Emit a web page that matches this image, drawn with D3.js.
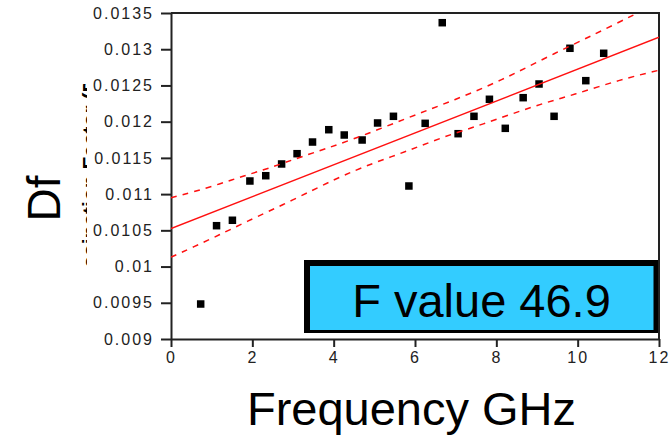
<!DOCTYPE html>
<html>
<head>
<meta charset="utf-8">
<script src="https://cdn.jsdelivr.net/npm/d3@7"></script>
<style>
  html, body { margin: 0; padding: 0; background: #fff; }
  svg { display: block; }
</style>
</head>
<body>
<svg id="chart" width="669" height="440"></svg>
<script>
// ---- data ----
const freq = [0.73, 1.12, 1.51, 1.94, 2.33, 2.72, 3.10, 3.48, 3.88, 4.26, 4.70, 5.08, 5.47,
              5.85, 6.25, 6.67, 7.06, 7.45, 7.83, 8.22, 8.66, 9.05, 9.42, 9.81, 10.20, 10.64];
const df   = [0.009483, 0.010564, 0.010639, 0.011181, 0.011254, 0.011416, 0.011558, 0.011719,
              0.011889, 0.011816, 0.011747, 0.011982, 0.012074, 0.011112, 0.011977, 0.013366,
              0.011834, 0.012074, 0.012309, 0.011908, 0.012331, 0.012520, 0.012074, 0.013013,
              0.012566, 0.012944];

const fitX = [0, 12];
const fitY = [0.010524, 0.013165];

const upperX = [0, 0.55, 1.20, 1.78, 2.43, 3.17, 4.47, 5.80, 6.98, 8.13, 9.27, 10.47, 11.36, 12];
const upperY = [0.01095, 0.01103, 0.01114, 0.01125, 0.01136, 0.01151, 0.01175, 0.01205,
                0.01230, 0.01257, 0.01290, 0.01322, 0.01347, 0.01364];
const lowerX = [0, 0.55, 1.20, 1.78, 3.01, 4.07, 4.97, 5.80, 6.69, 7.60, 8.99, 9.90, 11.04, 12];
const lowerY = [0.01013, 0.01027, 0.01044, 0.01060, 0.01092, 0.01122, 0.01143, 0.01159,
                0.01179, 0.01195, 0.01223, 0.01237, 0.01258, 0.01271];

const xTicks = [0, 2, 4, 6, 8, 10, 12];
const xTickLabels = ["0", "2", "4", "6", "8", "10", "12"];
const yTicks = [0.009, 0.0095, 0.01, 0.0105, 0.011, 0.0115, 0.012, 0.0125, 0.013, 0.0135];
const yTickLabels = ["0.009", "0.0095", "0.01", "0.0105", "0.011", "0.0115", "0.012", "0.0125", "0.013", "0.0135"];

const xTitle = "Frequency GHz";
const yTitle = "Df";
const hiddenTitle = "Dissipation Factor (Df)";
const fLabel = "F value 46.9";

// ---- layout ----
const svg = d3.select("#chart");
const L = 171, R = 659, T = 13, B = 339;
const x = d3.scaleLinear().domain([0, 12]).range([L, R]);
const y = d3.scaleLinear().domain([0.009, 0.0135]).range([B, T]);
const font = "'Liberation Sans', Arial, Helvetica, sans-serif";
const axisColor = "#222";

svg.append("rect").attr("width", 669).attr("height", 440).attr("fill", "#fff");

// clipped remnant of a rotated title at left of the tick labels (only slivers visible)
svg.append("clipPath").attr("id", "remnant")
  .append("rect").attr("x", 81).attr("y", 84).attr("width", 6).attr("height", 184);
svg.append("g").attr("clip-path", "url(#remnant)")
  .append("text")
  .attr("transform", "translate(97,176) rotate(-90)")
  .attr("text-anchor", "middle")
  .attr("font-family", font).attr("font-weight", "bold").attr("font-size", 21)
  .attr("fill", "#000")
  .text(hiddenTitle);

// clip for plot contents
svg.append("clipPath").attr("id", "plot")
  .append("rect").attr("x", L).attr("y", T).attr("width", R - L).attr("height", B - T);

// axes
const yAxis = d3.axisLeft(y).tickValues(yTicks)
  .tickFormat((d, i) => yTickLabels[i]).tickSize(10).tickSizeOuter(0).tickPadding(7);
const gy = svg.append("g").attr("transform", `translate(${L},0)`).call(yAxis);

const xAxis = d3.axisBottom(x).tickValues(xTicks)
  .tickFormat((d, i) => xTickLabels[i]).tickSize(8).tickSizeOuter(0).tickPadding(5);
const gx = svg.append("g").attr("transform", `translate(0,${B})`).call(xAxis);

[gx, gy].forEach(g => {
  g.select(".domain").attr("stroke", axisColor).attr("stroke-width", 2);
  g.selectAll(".tick line").attr("stroke", axisColor).attr("stroke-width", 2);
  g.selectAll(".tick text")
    .attr("font-family", font).attr("font-size", 16)
    .attr("letter-spacing", "2px").attr("fill", "#222");
});

// top and right frame
svg.append("path")
  .attr("d", `M${L},${T}H${R}V${B}`)
  .attr("fill", "none").attr("stroke", axisColor).attr("stroke-width", 2);

// points
const pts = freq.map((f, i) => ({ f, v: df[i] }));
svg.append("g").selectAll("rect").data(pts).enter().append("rect")
  .attr("x", d => x(d.f) - 3.75).attr("y", d => y(d.v) - 3.75)
  .attr("width", 7.5).attr("height", 7.5).attr("fill", "#000");

// fit line and confidence bands
const line = d3.line().x(d => x(d[0])).y(d => y(d[1]));
const curve = d3.line().x(d => x(d[0])).y(d => y(d[1])).curve(d3.curveBasis);
const lines = svg.append("g").attr("clip-path", "url(#plot)");
lines.append("path").attr("d", line(fitX.map((v, i) => [v, fitY[i]])))
  .attr("fill", "none").attr("stroke", "#ff1010").attr("stroke-width", 1.5);
lines.append("path").attr("d", curve(upperX.map((v, i) => [v, upperY[i]])))
  .attr("fill", "none").attr("stroke", "#ff1010").attr("stroke-width", 1.5)
  .attr("stroke-dasharray", "6,6");
lines.append("path").attr("d", curve(lowerX.map((v, i) => [v, lowerY[i]])))
  .attr("fill", "none").attr("stroke", "#ff1010").attr("stroke-width", 1.5)
  .attr("stroke-dasharray", "6,6");

// F value box
svg.append("rect").attr("x", 304).attr("y", 260).attr("width", 354).attr("height", 73).attr("fill", "#000");
svg.append("rect").attr("x", 310).attr("y", 266).attr("width", 343.5).attr("height", 64).attr("fill", "#33CCFF");
svg.append("text").attr("x", 481.5).attr("y", 317)
  .attr("text-anchor", "middle").attr("font-family", font).attr("font-size", 47)
  .attr("fill", "#000").text(fLabel);

// axis titles
svg.append("text").attr("x", 411.5).attr("y", 425)
  .attr("text-anchor", "middle").attr("font-family", font).attr("font-size", 47)
  .attr("fill", "#000").text(xTitle);
svg.append("text").attr("transform", "translate(60,198.5) rotate(-90)")
  .attr("text-anchor", "middle").attr("font-family", font).attr("font-size", 46)
  .attr("fill", "#000").text(yTitle);
</script>
</body>
</html>
